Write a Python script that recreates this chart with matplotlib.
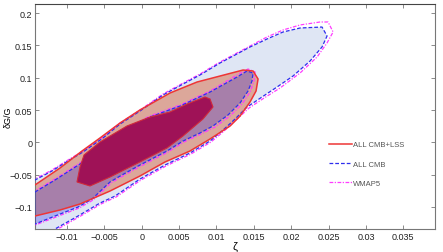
import matplotlib
matplotlib.use("Agg")
import matplotlib.pyplot as plt
from matplotlib.lines import Line2D

plt.rcParams['font.family'] = ['Liberation Sans', 'DejaVu Sans']

# ---- data: contour vertices (zeta, dG/G) ----
cmb_outer_zeta = [-0.01562, -0.01428, -0.01200, -0.00986, -0.00786, -0.00518, -0.00290, -0.00023,
                  0.00285, 0.00579, 0.00780, 0.01048, 0.01450, 0.01677, 0.01891, 0.02119, 0.02413,
                  0.02480, 0.02413, 0.02253, 0.02025, 0.01811, 0.01610, 0.01409, 0.01249, 0.01075,
                  0.00914, 0.00646, 0.00312, -0.00023, -0.00357, -0.00558, -0.00852, -0.01160,
                  -0.01428, -0.01562]
cmb_outer_dg = [-0.0693, -0.0584, -0.0444, -0.0289, -0.0150, 0.0067, 0.0283, 0.0485,
                0.0733, 0.0919, 0.1043, 0.1229, 0.1477, 0.1601, 0.1709, 0.1771, 0.1786,
                0.1647, 0.1477, 0.1260, 0.1027, 0.0857, 0.0702, 0.0546, 0.0361, 0.0175,
                0.0020, -0.0166, -0.0352, -0.0569, -0.0833, -0.0941, -0.1142, -0.1343,
                -0.1529, -0.1622]

cmb_inner_zeta = [-0.01562, -0.01428, -0.01160, -0.00826, -0.00558, -0.00197, 0.00111, 0.00513,
                  0.00914, 0.01276, 0.01409, 0.01490, 0.01476, 0.01423, 0.01316, 0.01155, 0.00954,
                  0.00780, 0.00553, 0.00339, -0.00023, -0.00290, -0.00424, -0.00665, -0.00852,
                  -0.01160, -0.01428, -0.01562]
cmb_inner_dg = [-0.0863, -0.0770, -0.0584, -0.0336, -0.0104, 0.0206, 0.0392, 0.0562,
                0.0779, 0.1012, 0.1105, 0.1074, 0.0950, 0.0795, 0.0609, 0.0423, 0.0253,
                0.0144, 0.0020, -0.0135, -0.0352, -0.0523, -0.0615, -0.0879, -0.1003,
                -0.1142, -0.1266, -0.1328]

lss_outer_zeta = [-0.01562, -0.01428, -0.01093, -0.00799, -0.00558, -0.00290, -0.00023, 0.00379,
                  0.00740, 0.01048, 0.01356, 0.01490, 0.01557, 0.01530, 0.01449, 0.01316, 0.01182,
                  0.00914, 0.00646, 0.00312, -0.00023, -0.00424, -0.00826, -0.01093, -0.01428,
                  -0.01562]
lss_outer_dg = [-0.0772, -0.0661, -0.0398, -0.0135, 0.0067, 0.0299, 0.0501, 0.0764,
                0.0934, 0.1027, 0.1120, 0.1105, 0.0981, 0.0795, 0.0624, 0.0407, 0.0252,
                0.0051, -0.0135, -0.0305, -0.0522, -0.0755, -0.0956, -0.1049, -0.1142,
                -0.1173]

lss_inner_zeta = [-0.00866, -0.00826, -0.00772, -0.00558, -0.00197, 0.00111, 0.00379, 0.00606,
                  0.00847, 0.00914, 0.00954, 0.00820, 0.00553, 0.00339, -0.00023, -0.00424,
                  -0.00692]
lss_inner_dg = [-0.0615, -0.0383, -0.0197, 0.0005, 0.0253, 0.0392, 0.0470, 0.0593,
                0.0702, 0.0671, 0.0547, 0.0361, 0.0098, -0.0088, -0.0305, -0.0538,
                -0.0677]

wmap_outer_zeta = [-0.01562, -0.01428, -0.01200, -0.00986, -0.00786, -0.00518, -0.00290, -0.00023,
                   0.00285, 0.00579, 0.00780, 0.01048, 0.01450, 0.01677, 0.01891, 0.02119, 0.02387,
                   0.02494, 0.02561, 0.02480, 0.02347, 0.02119, 0.01851, 0.01637, 0.01436, 0.01262,
                   0.01088, 0.00927, 0.00660, 0.00325, -0.00009, -0.00343, -0.00545, -0.00839,
                   -0.01147, -0.01428, -0.01562]
wmap_outer_dg = [-0.0662, -0.0568, -0.0429, -0.0274, -0.0135, 0.0082, 0.0299, 0.0500,
                 0.0748, 0.0934, 0.1058, 0.1244, 0.1492, 0.1632, 0.1740, 0.1818, 0.1864,
                 0.1864, 0.1709, 0.1539, 0.1322, 0.1074, 0.0841, 0.0686, 0.0531, 0.0345,
                 0.0160, 0.0005, -0.0181, -0.0367, -0.0584, -0.0848, -0.0956, -0.1157,
                 -0.1359, -0.1545, -0.1638]

wmap_inner_zeta = [-0.01562, -0.01428, -0.01160, -0.00826, -0.00558, -0.00197, 0.00111, 0.00513,
                   0.00914, 0.01276, 0.01423, 0.01517, 0.01503, 0.01450, 0.01343, 0.01182, 0.00981,
                   0.00794, 0.00566, 0.00352, -0.00009, -0.00277, -0.00410, -0.00652, -0.00839,
                   -0.01147, -0.01428, -0.01562]
wmap_inner_dg = [-0.0848, -0.0754, -0.0568, -0.0320, -0.0089, 0.0222, 0.0408, 0.0578,
                 0.0794, 0.1043, 0.1136, 0.1089, 0.0950, 0.0779, 0.0594, 0.0408, 0.0237,
                 0.0129, 0.0005, -0.0150, -0.0367, -0.0538, -0.0631, -0.0895, -0.1019,
                 -0.1158, -0.1282, -0.1344]

x_ticks = [-0.01, -0.005, 0, 0.005, 0.01, 0.015, 0.02, 0.025, 0.03, 0.035]
x_ticklabels = ["\u22120.01", "\u22120.005", "0", "0.005", "0.01", "0.015", "0.02", "0.025", "0.03", "0.035"]
y_ticks = [-0.1, -0.05, 0, 0.05, 0.1, 0.15, 0.2]
y_ticklabels = ["\u22120.1", "\u22120.05", "0", "0.05", "0.1", "0.15", "0.2"]
legend_labels = ["ALL CMB+LSS", "ALL CMB", "WMAP5"]

# ---- styles ----
RED = "#ee3535"
BLUE = "#2d2dee"
MAG = "#ff3cff"
DASH = (0, (3, 1.6))
DASHDOT = (0, (3, 1.2, 1, 1.2))

fig = plt.figure(figsize=(4.43, 2.53), dpi=100)
ax = fig.add_axes([0.079, 0.091, 0.903, 0.888])

def closed(xs, ys):
    return list(xs) + [xs[0]], list(ys) + [ys[0]]

# fills
ax.fill(cmb_outer_zeta, cmb_outer_dg, color="#dfe6f4", lw=0, zorder=1)
ax.fill(lss_outer_zeta, lss_outer_dg, color="#dca79a", lw=0, zorder=2)
ax.fill(cmb_inner_zeta, cmb_inner_dg, color="#0000e0", alpha=0.24, lw=0, zorder=3)

# contour lines
x, y = closed(cmb_outer_zeta, cmb_outer_dg)
ax.plot(x, y, color=BLUE, lw=0.9, ls=DASH, zorder=5)
x, y = closed(wmap_outer_zeta, wmap_outer_dg)
ax.plot(x, y, color=MAG, lw=0.9, ls=DASHDOT, zorder=4)
x, y = closed(lss_outer_zeta, lss_outer_dg)
ax.plot(x, y, color=RED, lw=1.1, zorder=6)
x, y = closed(cmb_inner_zeta, cmb_inner_dg)
ax.plot(x, y, color=BLUE, lw=0.9, ls=DASH, zorder=5)
x, y = closed(wmap_inner_zeta, wmap_inner_dg)
ax.plot(x, y, color=MAG, lw=0.9, ls=DASHDOT, zorder=4)

# inner LSS region on top
ax.fill(lss_inner_zeta, lss_inner_dg, facecolor="#9f1257", edgecolor="#d02a3a", lw=0.8, zorder=7)

ax.set_xlim(-0.01428, 0.03925)
ax.set_ylim(-0.1343, 0.2138)
ax.set_xticks(x_ticks)
ax.set_xticklabels(x_ticklabels)
ax.set_yticks(y_ticks)
ax.set_yticklabels(y_ticklabels)
ax.tick_params(direction="in", top=True, right=True, length=3, width=0.6,
               color="#777777", labelsize=6.5, labelcolor="#222222", pad=2)
for s in ax.spines.values():
    s.set_color("#777777")
    s.set_linewidth(0.8)
ax.spines["top"].set_color("#444444")

ax.set_xlabel("\u03b6", fontsize=8, labelpad=0)
ax.set_ylabel("\u03b4G/G", fontsize=6.5)
ax.yaxis.set_label_coords(-0.056, 0.5)

handles = [Line2D([], [], color=RED, lw=1.1),
           Line2D([], [], color=BLUE, lw=0.9, ls=DASH),
           Line2D([], [], color=MAG, lw=0.9, ls=DASHDOT)]
leg = ax.legend(handles, legend_labels, loc="upper left", bbox_to_anchor=(0.727, 0.405),
                frameon=False, fontsize=5.5, handlelength=3.0, handletextpad=0.1,
                labelspacing=1.55, borderaxespad=0)
for t in leg.get_texts():
    t.set_color("#555555")

fig.savefig("out.png", dpi=100)
